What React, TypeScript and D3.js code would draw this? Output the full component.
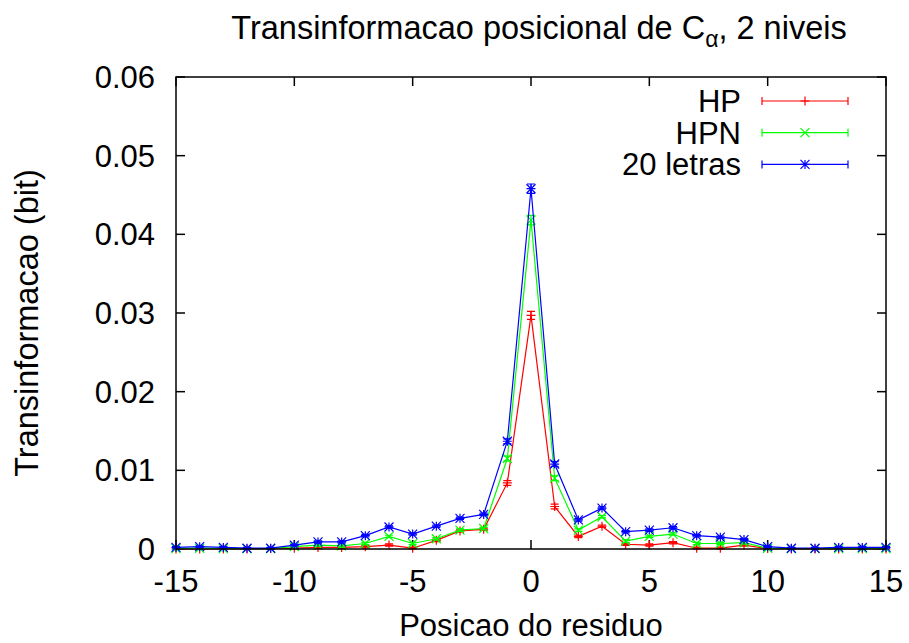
import React from "react";
import * as d3 from "d3";

const positions = d3.range(-15, 16);
const hpValues = [0, 0, 0, 0, 0.00005, 0.0001, 0.0002, 0.0002, 0.0003, 0.0005, 0.0001, 0.0011, 0.0023, 0.0025, 0.0084, 0.0297, 0.0054, 0.0016, 0.0029, 0.0006, 0.0005, 0.0008, 0.0001, 0.0001, 0.0005, 0.00005, 0, 0, 0, 0, 0];
const hpnValues = [0.00005, 0.0001, 0.00005, 0.00005, 0.00005, 0.0003, 0.0005, 0.0004, 0.0007, 0.0016, 0.0007, 0.0013, 0.0024, 0.0026, 0.0115, 0.0418, 0.009, 0.0024, 0.0041, 0.001, 0.0016, 0.0019, 0.0007, 0.0007, 0.0008, 0.0001, 0.00005, 0.00005, 0.00005, 0.00005, 0.00005];
const letrasValues = [0.0002, 0.0003, 0.0002, 0.0001, 0.0001, 0.0005, 0.0009, 0.0009, 0.0017, 0.0028, 0.0019, 0.0029, 0.0039, 0.0044, 0.0137, 0.0458, 0.0108, 0.0037, 0.0052, 0.0022, 0.0024, 0.0027, 0.0017, 0.0015, 0.0012, 0.0003, 0.0001, 0.0001, 0.0002, 0.0002, 0.0002];
const hpErrors = [0.0001, 0.0001, 0.0001, 0.0001, 0.0001, 0.0001, 0.00015, 0.00015, 0.00015, 0.00015, 0.00015, 0.00015, 0.00015, 0.00015, 0.0003, 0.0005, 0.0003, 0.00015, 0.00015, 0.00015, 0.00015, 0.00015, 0.00015, 0.00015, 0.00015, 0.0001, 0.0001, 0.0001, 0.0001, 0.0001, 0.0001];
const hpnErrors = [0.0001, 0.0001, 0.0001, 0.0001, 0.0001, 0.0001, 0.00015, 0.00015, 0.00015, 0.00015, 0.00015, 0.00015, 0.00015, 0.00015, 0.0003, 0.0006, 0.0003, 0.00015, 0.00015, 0.00015, 0.00015, 0.00015, 0.00015, 0.00015, 0.00015, 0.0001, 0.0001, 0.0001, 0.0001, 0.0001, 0.0001];
const letrasErrors = [0.0001, 0.0001, 0.0001, 0.0001, 0.0001, 0.0001, 0.00015, 0.00015, 0.00015, 0.00015, 0.00015, 0.00015, 0.00015, 0.00015, 0.0003, 0.0006, 0.0003, 0.00015, 0.00015, 0.00015, 0.00015, 0.00015, 0.00015, 0.00015, 0.00015, 0.0001, 0.0001, 0.0001, 0.0001, 0.0001, 0.0001];

const seriesNames = ["HP", "HPN", "20 letras"];
const seriesColors = ["#ff0000", "#00ff00", "#0000ff"];
const markerKinds = ["plus", "cross", "star"];
const xTicks = [-15, -10, -5, 0, 5, 10, 15];
const yTicks = [0, 0.01, 0.02, 0.03, 0.04, 0.05, 0.06];

const W = 909;
const H = 643;
const M = { left: 176, right: 886, top: 77, bottom: 549 };
const FONT = "'Liberation Sans', Arial, Helvetica, sans-serif";
const FS = 31;

function Marker({ kind, x, y, color }: { kind: string; x: number; y: number; color: string }) {
  const s = 4.5;
  const plus = `M${x - s},${y}H${x + s}M${x},${y - s}V${y + s}`;
  const cross = `M${x - s},${y - s}L${x + s},${y + s}M${x - s},${y + s}L${x + s},${y - s}`;
  const d = kind === "plus" ? plus : kind === "cross" ? cross : plus + cross;
  return <path d={d} stroke={color} strokeWidth={1.2} fill="none" />;
}

export default function App() {
  const x = d3.scaleLinear().domain([-15, 15]).range([M.left, M.right]);
  const y = d3.scaleLinear().domain([0, 0.06]).range([M.bottom, M.top]);
  const all = [
    { values: hpValues, errors: hpErrors },
    { values: hpnValues, errors: hpnErrors },
    { values: letrasValues, errors: letrasErrors },
  ];
  const line = d3
    .line<number>()
    .x((_, i) => x(positions[i]))
    .y((v) => y(v));
  const cap = 4;
  const tick = 9;
  const cx = (M.left + M.right) / 2;
  return (
    <svg width={W} height={H} style={{ position: "absolute", left: 0, top: 0, background: "#fff" }} fontFamily={FONT}>
      <rect x={0} y={0} width={W} height={H} fill="#fff" />
      {/* title */}
      <text x={cx + 8} y={39} fontSize={32.5} textAnchor="middle">
        Transinformacao posicional de C<tspan fontSize={23} dy={8}>α</tspan>
        <tspan dy={-8}>, 2 niveis</tspan>
      </text>
      {/* ticks */}
      {xTicks.map((t) => (
        <g key={"xt" + t}>
          <line x1={x(t)} x2={x(t)} y1={M.bottom} y2={M.bottom - tick} stroke="#000" strokeWidth={1.5} />
          <line x1={x(t)} x2={x(t)} y1={M.top} y2={M.top + tick} stroke="#000" strokeWidth={1.5} />
          <text x={x(t)} y={592} fontSize={FS} textAnchor="middle">
            {t}
          </text>
        </g>
      ))}
      {yTicks.map((t) => (
        <g key={"yt" + t}>
          <line x1={M.left} x2={M.left + tick} y1={y(t)} y2={y(t)} stroke="#000" strokeWidth={1.5} />
          <line x1={M.right} x2={M.right - tick} y1={y(t)} y2={y(t)} stroke="#000" strokeWidth={1.5} />
          <text x={155} y={y(t) + 11} fontSize={FS} textAnchor="end">
            {String(t)}
          </text>
        </g>
      ))}
      {/* axis labels */}
      <text x={cx} y={636} fontSize={FS} textAnchor="middle">
        Posicao do residuo
      </text>
      <text transform={`translate(38,${323}) rotate(-90)`} fontSize={32.5} textAnchor="middle">
        Transinformacao (bit)
      </text>
      {/* series */}
      {all.map((s, si) => (
        <g key={"s" + si}>
          <path d={line(s.values) || ""} stroke={seriesColors[si]} strokeWidth={1.2} fill="none" />
          {s.values.map((v, i) => {
            const px = x(positions[i]);
            const y1 = y(v + s.errors[i]);
            const y0 = y(Math.max(0, v - s.errors[i]));
            return (
              <g key={i}>
                <path
                  d={`M${px},${y0}V${y1}M${px - cap},${y0}H${px + cap}M${px - cap},${y1}H${px + cap}`}
                  stroke={seriesColors[si]}
                  strokeWidth={1.2}
                  fill="none"
                />
                <Marker kind={markerKinds[si]} x={px} y={y(v)} color={seriesColors[si]} />
              </g>
            );
          })}
        </g>
      ))}
      {/* legend */}
      {seriesNames.map((n, i) => {
        const ly = 101 + i * 31.7;
        return (
          <g key={"l" + i}>
            <text x={741} y={ly + 11} fontSize={FS} textAnchor="end">
              {n}
            </text>
            <path
              d={`M762,${ly}H848M762,${ly - cap}V${ly + cap}M848,${ly - cap}V${ly + cap}`}
              stroke={seriesColors[i]}
              strokeWidth={1.2}
              fill="none"
            />
            <Marker kind={markerKinds[i]} x={805} y={ly} color={seriesColors[i]} />
          </g>
        );
      })}
      {/* border */}
      <rect x={M.left} y={M.top} width={M.right - M.left} height={M.bottom - M.top} fill="none" stroke="#000" strokeWidth={1.5} />
    </svg>
  );
}
